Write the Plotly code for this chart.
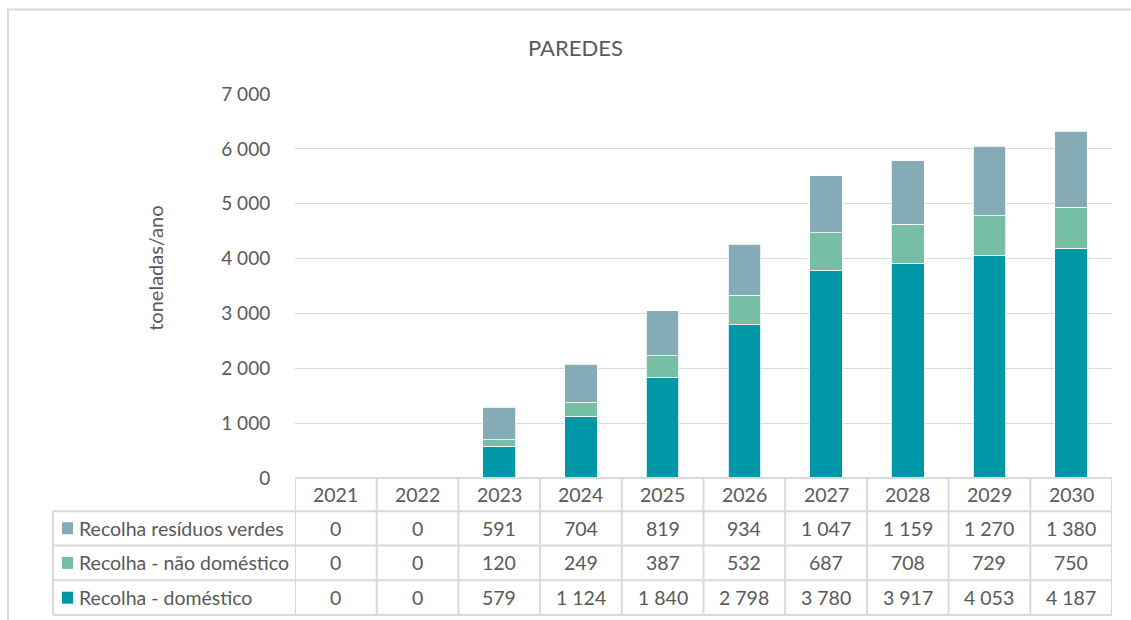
import plotly.graph_objects as go

years = ["2021", "2022", "2023", "2024", "2025", "2026", "2027", "2028", "2029", "2030"]
domestico = [0, 0, 579, 1124, 1840, 2798, 3780, 3917, 4053, 4187]
nao_domestico = [0, 0, 120, 249, 387, 532, 687, 708, 729, 750]
residuos_verdes = [0, 0, 591, 704, 819, 934, 1047, 1159, 1270, 1380]

names = ["Recolha - doméstico", "Recolha - não doméstico", "Recolha resíduos verdes"]
colors = ["#0097A7", "#76BFA5", "#85ABB6"]
series = [domestico, nao_domestico, residuos_verdes]

W, H = 1131, 620
L, R, T, B = 295, 1112, 94, 478.5
FONT = "Lato"
TXT = "#595959"
GRID = "#D9D9D9"


def px(xp):
    return (xp - L) / (R - L)


def py(yp):
    return (B - yp) / (B - T)


def fmt(v):
    return f"{v:,}".replace(",", " ")


fig = go.Figure()
for name, col, vals in zip(names, colors, series):
    fig.add_trace(go.Bar(x=years, y=vals, name=name, marker=dict(color=col, line=dict(color="white", width=0.8)),
                         width=0.4, hoverinfo="skip"))

shapes = []
annotations = []

# outer border (open on the right and bottom)
shapes.append(dict(type="path", xref="paper", yref="paper",
                   path=f"M {px(8)},{py(640)} L {px(8)},{py(9.5)} L {px(1131)},{py(9.5)}",
                   line=dict(color="#D9D9D9", width=2)))

# table grid
row_edges = [478.5, 511.7, 546, 581, 615.7]
tcol = "#D9D9D9"
for i, ye in enumerate(row_edges):
    shapes.append(dict(type="line", xref="paper", yref="paper", x0=px(295 if i == 0 else 53), x1=1,
                       y0=py(ye), y1=py(ye), line=dict(color=tcol, width=2)))
for i in range(len(years) + 1):
    shapes.append(dict(type="line", xref="x", yref="paper", x0=i - 0.5, x1=i - 0.5,
                       y0=py(row_edges[0]), y1=py(row_edges[-1]), line=dict(color=tcol, width=2)))
shapes.append(dict(type="line", xref="paper", yref="paper", x0=px(53), x1=px(53),
                   y0=py(row_edges[1]), y1=py(row_edges[-1]), line=dict(color=tcol, width=2)))

fs = 19.5
# header
for i, yr in enumerate(years):
    annotations.append(dict(x=i, xref="x", y=py((row_edges[0] + row_edges[1]) / 2), yref="paper", text=yr,
                            showarrow=False, font=dict(size=fs, color=TXT, family=FONT), xanchor="center",
                            yanchor="middle"))
# rows: top to bottom -> verdes, nao domestico, domestico
table_rows = [(names[2], colors[2], residuos_verdes), (names[1], colors[1], nao_domestico),
              (names[0], colors[0], domestico)]
for r, (name, col, vals) in enumerate(table_rows):
    yc = (row_edges[r + 1] + row_edges[r + 2]) / 2
    shapes.append(dict(type="rect", xref="paper", yref="paper", x0=px(62), x1=px(73), y0=py(yc - 6), y1=py(yc + 6),
                       fillcolor=col, line=dict(width=0)))
    annotations.append(dict(x=px(77), xref="paper", y=py(yc), yref="paper", text=name, showarrow=False,
                            font=dict(size=fs, color=TXT, family=FONT), xanchor="left", yanchor="middle"))
    for i, v in enumerate(vals):
        annotations.append(dict(x=i, xref="x", y=py(yc), yref="paper", text=fmt(v), showarrow=False,
                                font=dict(size=fs, color=TXT, family=FONT), xanchor="center", yanchor="middle"))

# title
annotations.append(dict(x=px(575), xref="paper", y=py(47), yref="paper", text="PAREDES", showarrow=False,
                        font=dict(size=22, color=TXT, family=FONT), xanchor="center", yanchor="middle"))
# y axis title
annotations.append(dict(x=px(155), xref="paper", y=py(269), yref="paper", text="toneladas/ano", showarrow=False,
                        textangle=-90, font=dict(size=20, color=TXT, family=FONT), xanchor="center",
                        yanchor="middle"))

fig.update_layout(
    width=W, height=H,
    margin=dict(l=L, r=W - R, t=T, b=H - B, pad=0),
    barmode="stack",
    bargap=0.6,
    showlegend=False,
    hovermode=False,
    plot_bgcolor="white",
    paper_bgcolor="white",
    separators=", ",
    shapes=shapes,
    annotations=annotations,
    xaxis=dict(type="category", range=[-0.5, len(years) - 0.5], showticklabels=False, showgrid=False,
               zeroline=False, showline=False, ticks=""),
    yaxis=dict(range=[0, 7000], dtick=1000, tickformat=",d", showgrid=True, gridcolor=GRID, gridwidth=1,
               zeroline=False, showline=False, ticks="outside", ticklen=20, tickcolor="rgba(0,0,0,0)",
               tickfont=dict(size=19, color=TXT, family=FONT)),
)

fig.write_html("out.html", config={"displayModeBar": False},
               post_script="document.body.style.margin='0';document.body.style.overflow='hidden';")
